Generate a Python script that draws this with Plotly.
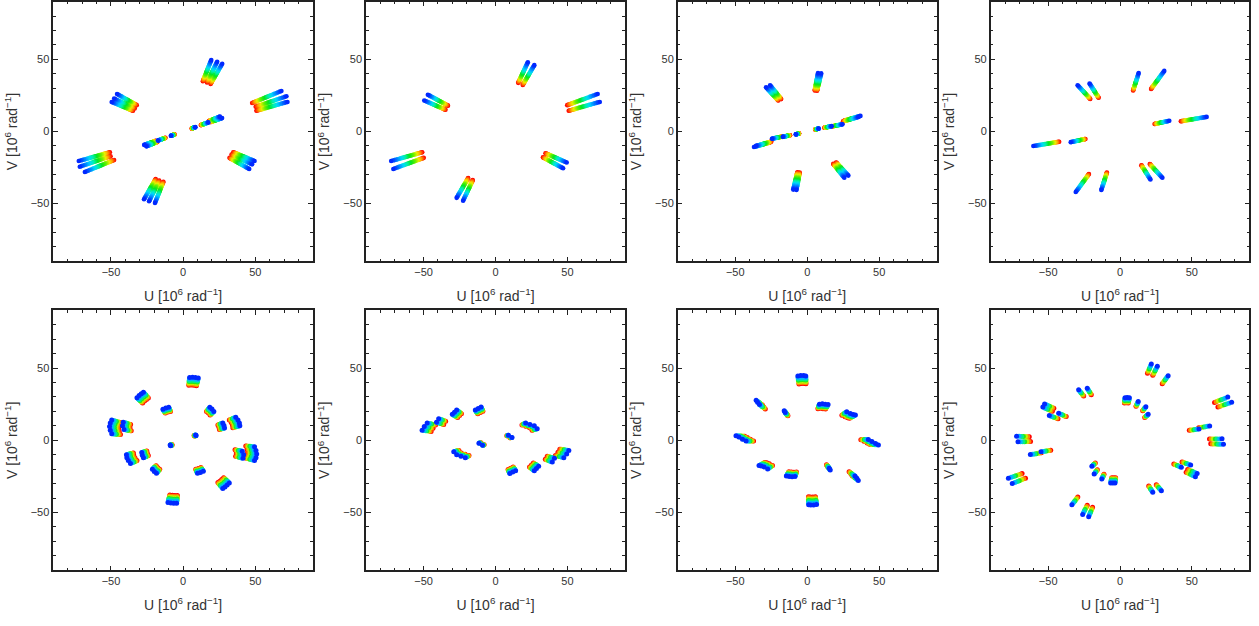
import plotly.graph_objects as go

# spectral channels (micron): wide band (top row) and narrow band (bottom row)
LAM_WIDE = [2.95, 3.00, 3.05, 3.10, 3.15, 3.20, 3.25, 3.30, 3.35, 3.40, 3.45, 3.50, 3.55,
            3.60, 3.65, 3.70, 3.75, 3.80, 3.85, 3.90, 3.95, 4.00, 4.05, 4.10, 4.15, 4.20]
LAM_NARROW = [2.00, 2.05, 2.10, 2.14, 2.19, 2.24, 2.28]

# uv points (10^6 rad^-1) at the shortest wavelength; the conjugate (-u,-v) is also plotted
P1_U = [68.1, 71.6, 72.3, 19.5, 23.6, 27.1, -49.5, -47.8, -45.8, 8.5, 17.5, 25.5, 27.0]
P1_V = [28.1, 24.4, 20.5, 49.6, 48.4, 47.0, 20.5, 22.8, 26.0, 3.0, 6.3, 10.3, 9.3]

P2_U = [71.0, 72.5, 22.5, 27.0, -47.0, -49.5]
P2_V = [26.0, 20.5, 48.0, 46.0, 25.5, 21.5]

P3_U = [7.5, 9.7, -28.6, -25.8, 8.0, 17.0, 24.5, 35.5, 37.0]
P3_V = [40.5, 40.3, 30.6, 32.0, 2.0, 3.7, 5.0, 10.0, 10.8]

P4_U = [13.0, 30.8, -29.5, -21.2, 34.3, 60.3]
P4_V = [40.5, 42.0, 32.1, 33.3, 7.4, 10.1]

P5_U = [4.5, 6.5, 8.5, 10.5, -32.0, -30.5, -29.0, -27.5, -14.0, -12.0, -10.0,
        18.5, 20.0, 21.3, 27.5, 28.3, 28.7, 36.5, 38.0, 39.0, 39.3,
        49.5, 50.5, 51.0, 50.5, 49.5, 41.0, 42.0, 41.5, 9.0, 8.7]
P5_V = [43.5, 43.6, 43.4, 43.1, 29.5, 31.0, 32.3, 33.3, 21.5, 22.3, 22.8,
        22.8, 21.6, 20.0, 12.0, 10.3, 8.5, 16.0, 14.0, 12.0, 10.0,
        -4.5, -7.0, -9.5, -12.0, -14.0, -7.5, -10.0, -12.5, 3.3, 3.7]

P6_U = [-51.0, -49.5, -47.5, -41.0, -39.5, -30.0, -28.5, -27.0, -14.0, -12.0, -10.0,
        -29.0, -27.0, -24.0, -21.0, -11.5, -9.0]
P6_V = [7.0, 9.5, 12.0, 12.5, 15.0, 18.0, 19.5, 21.0, 21.0, 22.0, 23.0,
        -8.0, -10.0, -11.0, -12.0, -2.0, -3.5]

P7_U = [-6.5, -4.5, -2.5, -1.0, -35.5, -34.5, -33.2, -16.0, -15.3,
        8.5, 10.5, 12.5, 14.5, 27.5, 30.0, 32.0, 33.5, 42.5, 45.0, 47.5, 49.5]
P7_V = [44.5, 44.8, 44.8, 44.6, 27.8, 26.3, 24.8, 20.5, 19.3,
        25.0, 25.3, 25.0, 24.8, 19.8, 18.5, 17.8, 17.5, 0.5, -0.8, -2.2, -3.2]

P8_U = [21.8, 26.0, 33.5, -28.8, -22.8, 3.5, 5.0, 6.5, 12.7, 18.0, 19.6,
        55.0, 62.4, 75.0, 77.7, 71.0, 72.0, -52.5, -53.7, -49.2, -42.7]
P8_V = [52.9, 51.3, 44.7, 35.0, 36.0, 29.5, 29.6, 29.5, 26.8, 23.3, 18.0,
        7.9, 9.9, 29.9, 26.3, 1.0, -2.8, 25.2, 23.0, 17.1, 18.7]

PANELS = [(P1_U, P1_V, LAM_WIDE), (P2_U, P2_V, LAM_WIDE), (P3_U, P3_V, LAM_WIDE), (P4_U, P4_V, LAM_WIDE),
          (P5_U, P5_V, LAM_NARROW), (P6_U, P6_V, LAM_NARROW), (P7_U, P7_V, LAM_NARROW), (P8_U, P8_V, LAM_NARROW)]

RAINBOW = [[0.0, 'rgb(0,40,255)'], [0.1, 'rgb(0,120,255)'], [0.22, 'rgb(0,215,255)'],
           [0.33, 'rgb(0,240,170)'], [0.45, 'rgb(0,230,30)'], [0.6, 'rgb(110,240,0)'],
           [0.72, 'rgb(235,240,0)'], [0.82, 'rgb(255,170,0)'], [0.92, 'rgb(255,70,0)'],
           [1.0, 'rgb(255,0,0)']]

XDOM = [[0.0423, 0.2486], [0.2907, 0.4964], [0.5383, 0.7440], [0.7869, 0.9923]]
YDOM = [[0.5826, 0.9973], [0.0890, 0.5043]]

FONT = 'Liberation Sans, Arial, Helvetica, sans-serif'
TXT = '#333333'

fig = go.Figure()
layout = {}
for i, (u_ref, v_ref, lam) in enumerate(PANELS):
    lam0 = min(lam)
    us = list(u_ref) + [-a for a in u_ref]
    vs = list(v_ref) + [-a for a in v_ref]
    xs, ys, cs = [], [], []
    for l in sorted(lam, reverse=True):
        for u, v in zip(us, vs):
            xs.append(u * lam0 / l)
            ys.append(v * lam0 / l)
            cs.append(l)
    sfx = '' if i == 0 else str(i + 1)
    fig.add_trace(go.Scatter(
        x=xs, y=ys, mode='markers', xaxis='x' + sfx, yaxis='y' + sfx,
        marker=dict(color=cs, colorscale=RAINBOW, cmin=min(lam), cmax=max(lam),
                    size=4.6 if i < 4 else 5, line=dict(width=0)),
        showlegend=False, hoverinfo='skip'))
    common = dict(range=[-90, 90], showgrid=False, zeroline=False, showline=True,
                  linecolor='#222222', linewidth=1.5, mirror='ticks', ticks='inside',
                  tickmode='linear', tick0=0, dtick=50, ticklen=5, tickwidth=1, tickcolor='#222222',
                  minor=dict(ticks='inside', dtick=10, tick0=0, ticklen=3, tickwidth=1, tickcolor='#222222'),
                  tickfont=dict(family=FONT, size=11, color=TXT), automargin=False, fixedrange=True)
    layout['xaxis' + sfx] = dict(common, domain=XDOM[i % 4], anchor='y' + sfx,
                                 title=dict(text='U [10<sup>6</sup> rad<sup>−1</sup>]', standoff=14,
                                            font=dict(family=FONT, size=14, color=TXT)))
    layout['yaxis' + sfx] = dict(common, domain=YDOM[i // 4], anchor='x' + sfx,
                                 title=dict(text='V [10<sup>6</sup> rad<sup>−1</sup>]', standoff=10,
                                            font=dict(family=FONT, size=14, color=TXT)))

fig.update_layout(width=1259, height=626, margin=dict(l=0, r=0, t=0, b=0),
                  paper_bgcolor='white', plot_bgcolor='white', **layout)
fig.write_html('out.html', config={'displayModeBar': False},
               post_script="document.body.style.margin='0px';")
